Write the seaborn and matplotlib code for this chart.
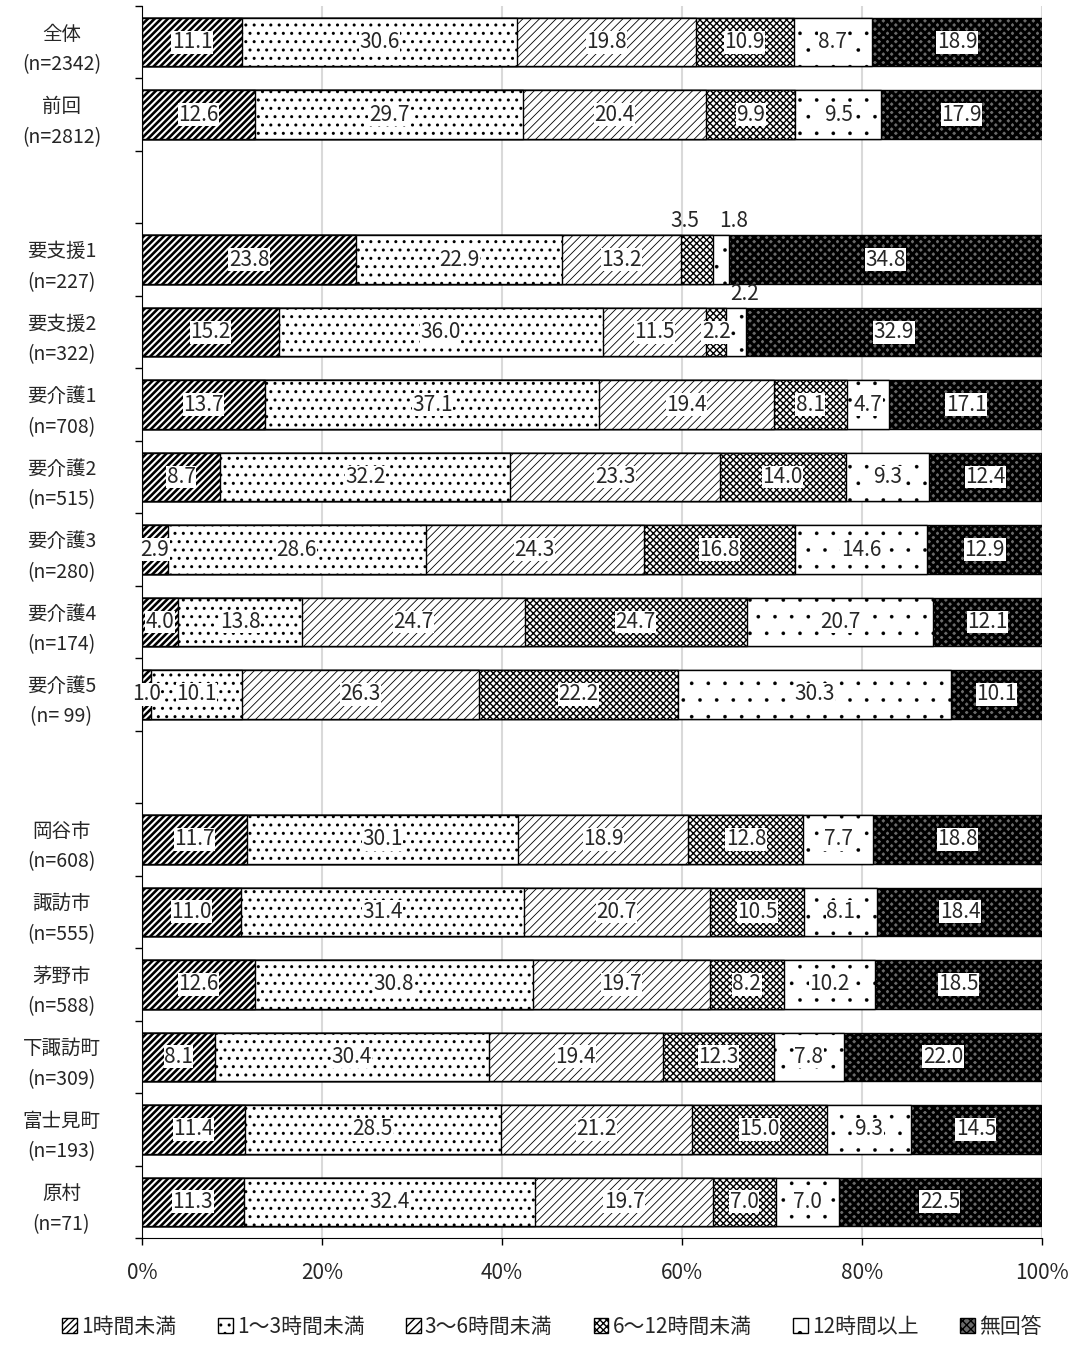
import numpy as np
import pandas as pd
import seaborn as sns
import matplotlib.pyplot as plt
from matplotlib.patches import Patch

groups = ['全体\n(n=2342)', '前回\n(n=2812)', ' ',
          '要支援1\n(n=227)', '要支援2\n(n=322)', '要介護1\n(n=708)',
          '要介護2\n(n=515)', '要介護3\n(n=280)', '要介護4\n(n=174)',
          '要介護5\n(n= 99)', '  ',
          '岡谷市\n(n=608)', '諏訪市\n(n=555)', '茅野市\n(n=588)',
          '下諏訪町\n(n=309)', '富士見町\n(n=193)', '原村\n(n=71)']

series = ['1時間未満', '1～3時間未満', '3～6時間未満', '6～12時間未満', '12時間以上', '無回答']

under_1h = [11.1, 12.6, np.nan, 23.8, 15.2, 13.7, 8.7, 2.9, 4.0, 1.0, np.nan, 11.7, 11.0, 12.6, 8.1, 11.4, 11.3]
h1_3 = [30.6, 29.7, np.nan, 22.9, 36.0, 37.1, 32.2, 28.6, 13.8, 10.1, np.nan, 30.1, 31.4, 30.8, 30.4, 28.5, 32.4]
h3_6 = [19.8, 20.4, np.nan, 13.2, 11.5, 19.4, 23.3, 24.3, 24.7, 26.3, np.nan, 18.9, 20.7, 19.7, 19.4, 21.2, 19.7]
h6_12 = [10.9, 9.9, np.nan, 3.5, 2.2, 8.1, 14.0, 16.8, 24.7, 22.2, np.nan, 12.8, 10.5, 8.2, 12.3, 15.0, 7.0]
h12_plus = [8.7, 9.5, np.nan, 1.8, 2.2, 4.7, 9.3, 14.6, 20.7, 30.3, np.nan, 7.7, 8.1, 10.2, 7.8, 9.3, 7.0]
no_answer = [18.9, 17.9, np.nan, 34.8, 32.9, 17.1, 12.4, 12.9, 12.1, 10.1, np.nan, 18.8, 18.4, 18.5, 22.0, 14.5, 22.5]

df = pd.DataFrame({series[0]: under_1h, series[1]: h1_3, series[2]: h3_6,
                   series[3]: h6_12, series[4]: h12_plus, series[5]: no_answer},
                  index=groups)
cum = df.cumsum(axis=1)

hatches = ['/////', '..', '////', 'xxxxx', '.', 'xxxx']
hatch_lw = [1.9, 1.0, 0.6, 1.0, 0.2, 2.2]
faces = ['white', 'white', 'white', 'white', 'white', '#6a6a6a']

sns.set_style('white')
plt.rcParams['font.family'] = ['Noto Sans CJK JP', 'DejaVu Sans']
plt.rcParams['hatch.linewidth'] = 1.0

fig = plt.figure(figsize=(10.72, 13.59), dpi=100)
ax = fig.add_axes([0.1325, 0.089, 0.8395, 0.9066])

for i in reversed(range(len(series))):
    n0 = len(ax.patches)
    sns.barplot(x=cum[series[i]].values, y=groups, order=groups, orient='h',
                color=faces[i], saturation=1, edgecolor='black', linewidth=1,
                hatch=hatches[i], width=0.67, ax=ax)
    for p in ax.patches[n0:]:
        if hasattr(p, 'set_hatch_linewidth'):
            p.set_hatch_linewidth(hatch_lw[i])

# value labels
outside = {(3, 3): -1.3, (3, 4): 1.4, (4, 4): 1.0}
for r, g in enumerate(groups):
    if np.isnan(df.iloc[r, 0]):
        continue
    left = 0
    for c in range(len(series)):
        v = df.iloc[r, c]
        mid = left + v / 2
        if (r, c) in outside:
            ax.text(mid + outside[(r, c)], r - 0.53, f'{v:.1f}', ha='center', va='center',
                    fontsize=15)
        else:
            ax.text(mid, r, f'{v:.1f}', ha='center', va='center', fontsize=15,
                    bbox=dict(fc='white', ec='none', pad=0.3))
        left += v

ax.set_xlim(0, 100)
ax.set_ylim(16.5, -0.5)
ax.set_xticks(range(0, 101, 20))
ax.set_xticklabels([f'{t}%' for t in range(0, 101, 20)], fontsize=15)
ax.tick_params(axis='x', length=5, width=1, direction='out', pad=12, color='black', bottom=True)

ax.set_yticks(range(len(groups)))
ax.set_yticklabels(groups, fontsize=14, ha='center', linespacing=1.6)
ax.tick_params(axis='y', which='major', length=0, pad=58)
ax.set_yticks(np.arange(-0.5, len(groups), 1), minor=True)
ax.tick_params(axis='y', which='minor', length=5, width=1, direction='out', left=True, color='black')
ax.set_ylabel('')
ax.set_xlabel('')

ax.xaxis.grid(True, color='#d9d9d9', linewidth=1.5)
ax.set_axisbelow(True)
for s in ['top', 'right']:
    ax.spines[s].set_visible(False)
ax.spines['left'].set_color('black')
ax.spines['bottom'].set_color('black')

handles = []
for i in range(len(series)):
    h = Patch(facecolor=faces[i], edgecolor='black', hatch=hatches[i], label=series[i])
    handles.append(h)
leg = fig.legend(handles=handles, loc='lower center', bbox_to_anchor=(0.515, 0.002), ncol=6,
                 frameon=False, handlelength=0.7, handleheight=0.7, handletextpad=0.2,
                 columnspacing=2.0, fontsize=15)

fig.savefig('out.png', dpi=100)
